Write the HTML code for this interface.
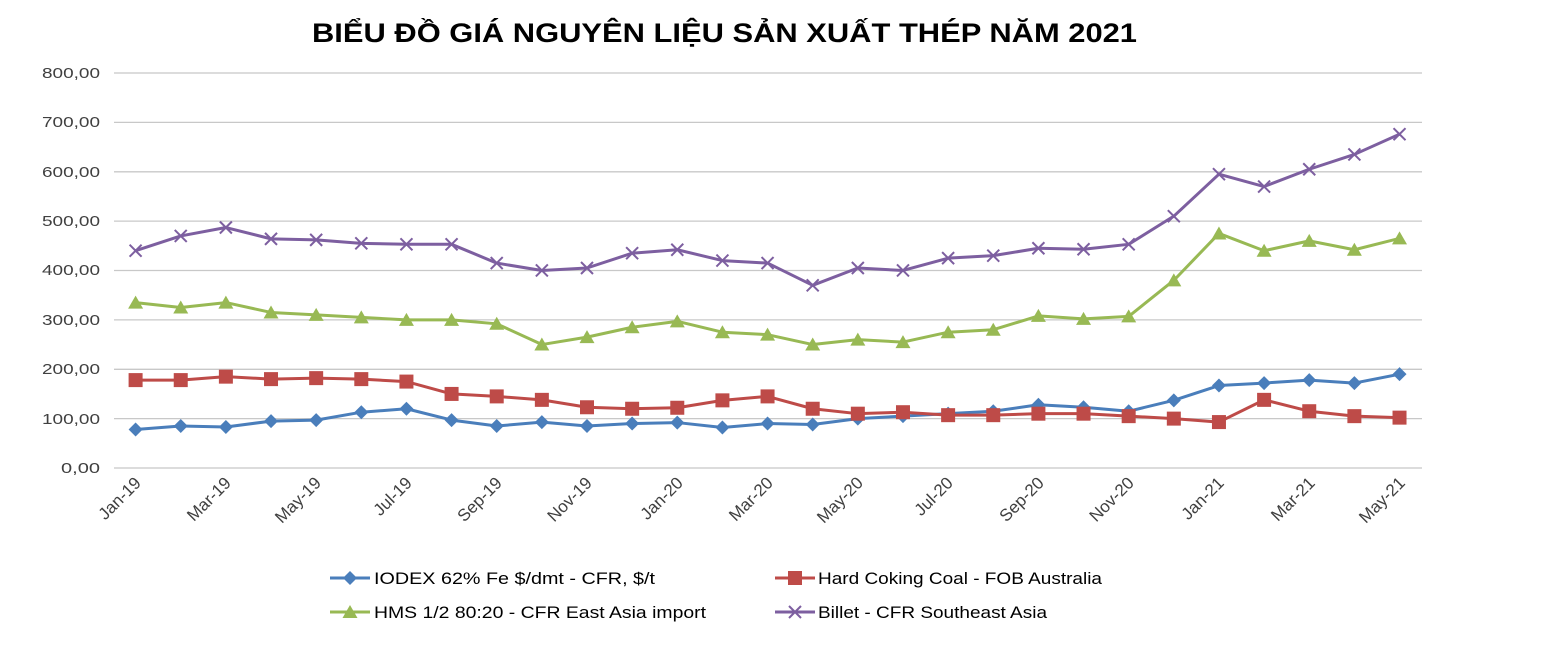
<!DOCTYPE html>
<html><head><meta charset="utf-8"><style>
body{margin:0;background:#fff;}
svg{display:block;font-family:"Liberation Sans",Arial,sans-serif;}
</style></head><body>
<svg id="c" width="1549" height="655" viewBox="0 0 1549 655">
<text x="312" y="42" font-size="27" font-weight="bold" fill="#000" textLength="825" lengthAdjust="spacingAndGlyphs">BIỂU ĐỒ GIÁ NGUYÊN LIỆU SẢN XUẤT THÉP NĂM 2021</text>
<g stroke="#c8c8c8" stroke-width="1.3">
<line x1="114" x2="1422" y1="73" y2="73"/><line x1="114" x2="1422" y1="122.4" y2="122.4"/>
<line x1="114" x2="1422" y1="171.8" y2="171.8"/><line x1="114" x2="1422" y1="221.1" y2="221.1"/>
<line x1="114" x2="1422" y1="270.5" y2="270.5"/><line x1="114" x2="1422" y1="319.9" y2="319.9"/>
<line x1="114" x2="1422" y1="369.3" y2="369.3"/><line x1="114" x2="1422" y1="418.6" y2="418.6"/>
<line x1="114" x2="1422" y1="468" y2="468"/></g>
<g font-size="15" fill="#404040" text-anchor="end" lengthAdjust="spacingAndGlyphs">
<text x="100" y="78" textLength="58" lengthAdjust="spacingAndGlyphs">800,00</text><text x="100" y="127" textLength="58" lengthAdjust="spacingAndGlyphs">700,00</text><text x="100" y="177" textLength="58" lengthAdjust="spacingAndGlyphs">600,00</text>
<text x="100" y="226" textLength="58" lengthAdjust="spacingAndGlyphs">500,00</text><text x="100" y="275" textLength="58" lengthAdjust="spacingAndGlyphs">400,00</text><text x="100" y="325" textLength="58" lengthAdjust="spacingAndGlyphs">300,00</text>
<text x="100" y="374" textLength="58" lengthAdjust="spacingAndGlyphs">200,00</text><text x="100" y="424" textLength="58" lengthAdjust="spacingAndGlyphs">100,00</text><text x="100" y="473" textLength="39" lengthAdjust="spacingAndGlyphs">0,00</text></g>
<g font-size="17" fill="#404040" text-anchor="end">
<text transform="translate(142,484) rotate(-45)">Jan-19</text>
<text transform="translate(232,484) rotate(-45)">Mar-19</text>
<text transform="translate(322,484) rotate(-45)">May-19</text>
<text transform="translate(413,484) rotate(-45)">Jul-19</text>
<text transform="translate(503,484) rotate(-45)">Sep-19</text>
<text transform="translate(593,484) rotate(-45)">Nov-19</text>
<text transform="translate(684,484) rotate(-45)">Jan-20</text>
<text transform="translate(774,484) rotate(-45)">Mar-20</text>
<text transform="translate(864,484) rotate(-45)">May-20</text>
<text transform="translate(954,484) rotate(-45)">Jul-20</text>
<text transform="translate(1045,484) rotate(-45)">Sep-20</text>
<text transform="translate(1135,484) rotate(-45)">Nov-20</text>
<text transform="translate(1225,484) rotate(-45)">Jan-21</text>
<text transform="translate(1316,484) rotate(-45)">Mar-21</text>
<text transform="translate(1406,484) rotate(-45)">May-21</text></g>
<g id="series"></g>
<g id="leg"></g>
<g font-size="17" fill="#000">
<text x="374" y="584" textLength="281" lengthAdjust="spacingAndGlyphs">IODEX 62% Fe $/dmt - CFR, $/t</text>
<text x="818" y="584" textLength="284" lengthAdjust="spacingAndGlyphs">Hard Coking Coal - FOB Australia</text>
<text x="374" y="618" textLength="332" lengthAdjust="spacingAndGlyphs">HMS 1/2 80:20 - CFR East Asia import</text>
<text x="818" y="618" textLength="229" lengthAdjust="spacingAndGlyphs">Billet - CFR Southeast Asia</text></g>
</svg>
<script>
var NS="http://www.w3.org/2000/svg";
var D=[
["#4a7ebb","d",[78,85,83,95,97,113,120,97,85,93,85,90,92,82,90,88,100,105,110,115,128,123,115,137,167,172,178,172,190]],
["#be4b48","s",[178,178,185,180,182,180,175,150,145,138,123,120,122,137,145,120,110,113,107,107,110,110,105,100,93,138,115,105,102]],
["#98b954","t",[335,325,335,315,310,305,300,300,292,250,265,285,297,275,270,250,260,255,275,280,308,302,307,380,475,440,460,442,465]],
["#7d5fa0","x",[440,470,487,464,462,455,453,453,415,400,405,435,442,420,415,370,405,400,425,430,445,443,453,510,595,570,605,635,676]]];
function el(t,a,p){var e=document.createElementNS(NS,t);for(var k in a)e.setAttribute(k,a[k]);p.appendChild(e);return e;}
function mk(g,type,x,y,c){
 if(type=="d")el("path",{d:"M"+x+" "+(y-7)+"L"+(x+7)+" "+y+"L"+x+" "+(y+7)+"L"+(x-7)+" "+y+"Z",fill:c},g);
 else if(type=="s")el("rect",{x:x-7,y:y-7,width:14,height:14,fill:c},g);
 else if(type=="t")el("path",{d:"M"+x+" "+(y-7)+"L"+(x+7.5)+" "+(y+6)+"L"+(x-7.5)+" "+(y+6)+"Z",fill:c},g);
 else el("path",{d:"M"+(x-6)+" "+(y-6)+"L"+(x+6)+" "+(y+6)+"M"+(x+6)+" "+(y-6)+"L"+(x-6)+" "+(y+6),stroke:c,"stroke-width":2},g);
}
var g=document.getElementById("series");
D.forEach(function(s){
 var pts=s[2].map(function(v,i){return [135.6+i*45.14,468-v*0.4938];});
 el("polyline",{points:pts.map(function(p){return p.join(",")}).join(" "),fill:"none",stroke:s[0],"stroke-width":3,"stroke-linejoin":"round"},g);
 pts.forEach(function(p){mk(g,s[1],p[0],p[1],s[0]);});
});
var L=document.getElementById("leg");
[[330,578,0],[775,578,1],[330,612,2],[775,612,3]].forEach(function(a){
 var s=D[a[2]];el("line",{x1:a[0],x2:a[0]+40,y1:a[1],y2:a[1],stroke:s[0],"stroke-width":3},L);mk(L,s[1],a[0]+20,a[1],s[0]);});
</script>
</body></html>
